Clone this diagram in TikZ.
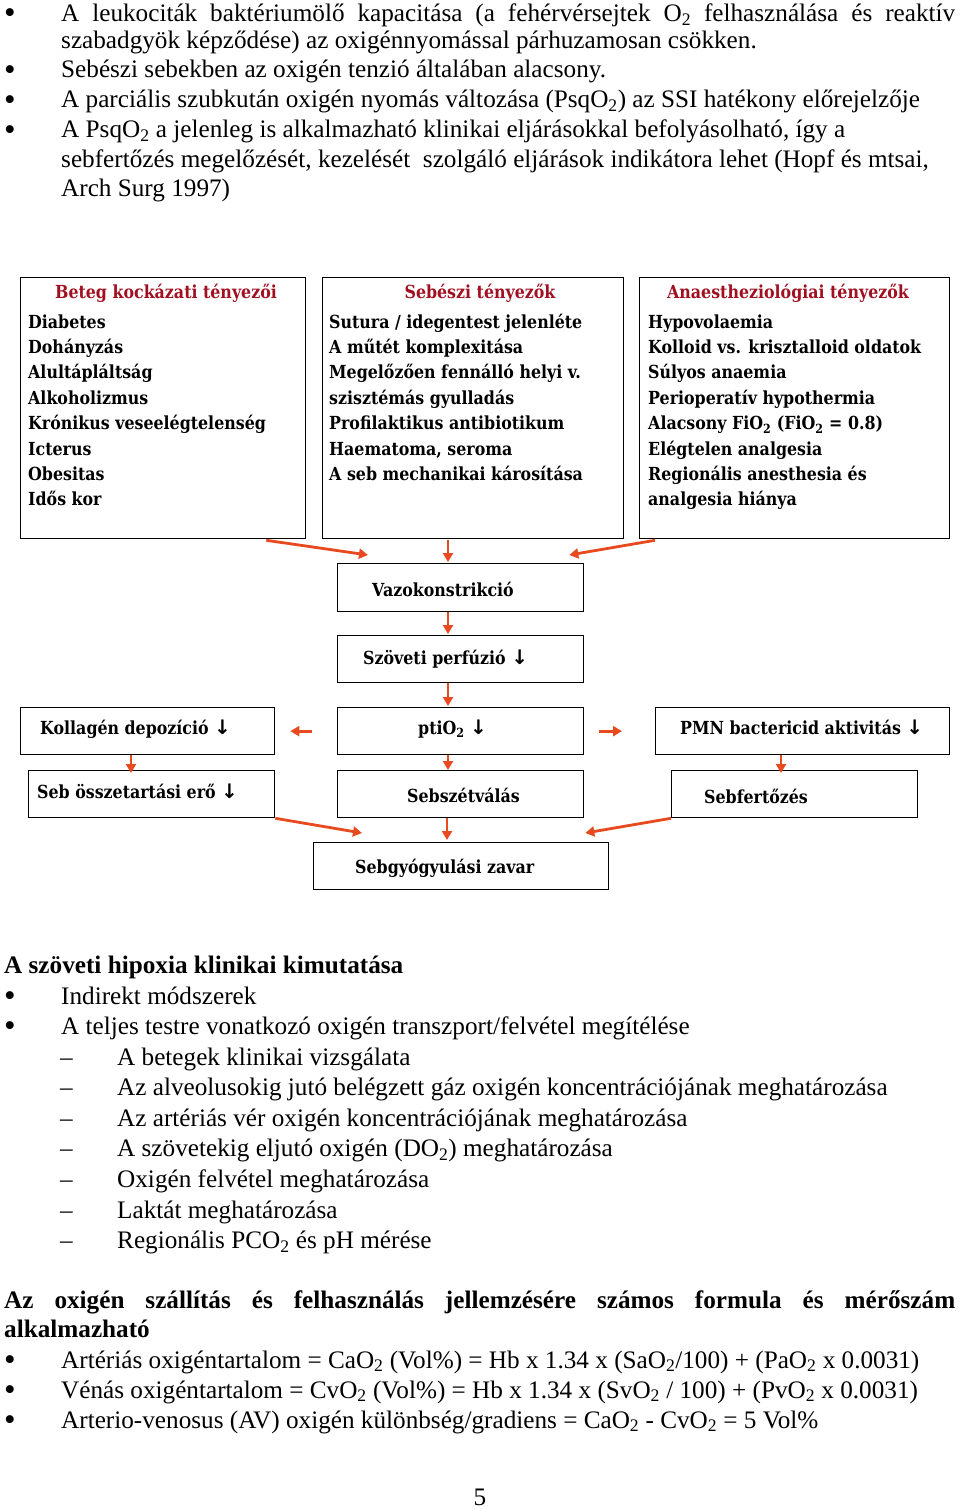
\documentclass[tikz,border=0pt]{standalone}
\usepackage{fontspec}
\setmainfont{Liberation Serif}
\newfontfamily\boxfont{DejaVu Serif}[FakeStretch=0.88]
\newfontfamily\arrowfont{DejaVu Sans}
\usetikzlibrary{arrows.meta,calc,positioning}
\definecolor{ArrowClr}{RGB}{232,74,32}
\definecolor{TitleClr}{RGB}{160,16,32}
\newcommand{\dnarrow}{{\arrowfont\fontsize{20}{20}\selectfont ↓}}
\newcommand{\bul}{\smash{\raisebox{-2pt}{\fontsize{33}{33}\selectfont •}}}

\tikzset{
  bodytxt/.style={font=\fontsize{25.2}{30}\selectfont,inner sep=0pt,anchor=base west},
  boxtxt/.style={font=\boxfont\bfseries\fontsize{18}{20}\selectfont,inner sep=0pt,anchor=base west},
  boxtitle/.style={boxtxt,anchor=base,text=TitleClr},
  flowbox/.style n args={2}{draw,line width=1.3pt,minimum width=#1,minimum height=#2,
    inner sep=0pt,anchor=north west},
  flowarrow/.style={draw=ArrowClr,line width=2.8pt,-{Triangle[length=9pt,width=10pt]}},
}

\begin{document}
\begin{tikzpicture}[x=1pt,y=-1pt]
\useasboundingbox (0,0) rectangle (960,1509);

% bevezeto pontok
\node[bodytxt] (b1) at (4,21.5) {\bul};
\node[bodytxt] (t1) at (61,21.5) {\makebox[894pt][s]{A leukociták baktériumölő kapacitása (a fehérvérsejtek O\textsubscript{2} felhasználása és reaktív}};
\node[bodytxt] (t2) at (61,48.5) {szabadgyök képződése) az oxigénnyomással párhuzamosan csökken.};
\node[bodytxt] (b3) at (4,78) {\bul};
\node[bodytxt] (t3) at (61,78) {Sebészi sebekben az oxigén tenzió általában alacsony.};
\node[bodytxt] (b4) at (4,108) {\bul};
\node[bodytxt] (t4) at (61,108) {A parciális szubkután oxigén nyomás változása (PsqO\textsubscript{2}) az SSI hatékony előrejelzője};
\node[bodytxt] (b5) at (4,138) {\bul};
\node[bodytxt] (t5) at (61,138) {A PsqO\textsubscript{2} a jelenleg is alkalmazható klinikai eljárásokkal befolyásolható, így a};
\node[bodytxt] (t6) at (61,167) {sebfertőzés megelőzését, kezelését~ szolgáló eljárások indikátora lehet (Hopf és mtsai,};
\node[bodytxt] (t7) at (61,196) {Arch Surg 1997)};

% kockazati tenyezok
\node[flowbox={285pt}{261pt}] (bet) at (20,277) {};
\node[flowbox={301pt}{261pt}] (seb) at (322,277) {};
\node[flowbox={310pt}{261pt}] (ana) at (639,277) {};
\node[boxtitle] (bettitle) at (166,298) {Beteg kockázati tényezői};
\node[boxtitle] (sebtitle) at (480,298) {Sebészi tényezők};
\node[boxtitle] (anatitle) at (788,298) {Anaestheziológiai tényezők};
\foreach \txt [count=\i] in {Diabetes,Dohányzás,Alultápláltság,Alkoholizmus,
  Krónikus veseelégtelenség,Icterus,Obesitas,Idős kor}
  \node[boxtxt] (bet\i) at (28,302.6+25.4*\i) {\txt};
\foreach \txt [count=\i] in {Sutura / idegentest jelenléte,A műtét komplexitása,
  Megelőzően fennálló helyi v.,szisztémás gyulladás,Profilaktikus antibiotikum,
  {Haematoma, seroma},A seb mechanikai károsítása}
  \node[boxtxt] (seb\i) at (329,302.6+25.4*\i) {\txt};
\foreach \txt [count=\i] in {Hypovolaemia,Kolloid vs. krisztalloid oldatok,Súlyos anaemia,
  Perioperatív hypothermia,Alacsony FiO\textsubscript{2} (FiO\textsubscript{2} = 0.8),
  Elégtelen analgesia,Regionális anesthesia és,analgesia hiánya}
  \node[boxtxt] (ana\i) at (648,302.6+25.4*\i) {\txt};

% folyamat
\node[flowbox={246pt}{48pt}] (vazo) at (337,563) {};
\node[flowbox={246pt}{47pt}] (szov) at (337,635) {};
\node[flowbox={254pt}{47pt}] (koll) at (20,707) {};
\node[flowbox={246pt}{47pt}] (pti) at (337,707) {};
\node[flowbox={294pt}{47pt}] (pmn) at (655,707) {};
\node[flowbox={246pt}{47pt}] (ossz) at (28,770) {};
\node[flowbox={246pt}{47pt}] (sebsz) at (337,770) {};
\node[flowbox={246pt}{47pt}] (sebf) at (671,770) {};
\node[flowbox={295pt}{47pt}] (gyogy) at (313,842) {};

\node[boxtxt] (vazotxt) at (372,596) {Vazokonstrikció};
\node[boxtxt] (szovtxt) at (363,664) {Szöveti perfúzió \dnarrow};
\node[boxtxt] (kolltxt) at (40,734) {Kollagén depozíció \dnarrow};
\node[boxtxt] (ptitxt) at (418,734) {ptiO\textsubscript{2} \dnarrow};
\node[boxtxt] (pmntxt) at (680,734) {PMN bactericid aktivitás \dnarrow};
\node[boxtxt] (ossztxt) at (37,798) {Seb összetartási erő \dnarrow};
\node[boxtxt] (sebsztxt) at (407,802) {Sebszétválás};
\node[boxtxt] (sebftxt) at (704,803) {Sebfertőzés};
\node[boxtxt] (gyogytxt) at (355,873) {Sebgyógyulási zavar};

\draw[flowarrow] ($(bet.south east)+(-40,1)$) -- ($(vazo.north west)+(31,-8)$);
\draw[flowarrow] ($(seb.south west)+(126,1)$) -- ($(vazo.north west)+(111,-1)$);
\draw[flowarrow] ($(ana.south west)+(16,1)$) -- ($(vazo.north east)+(-15,-8)$);
\draw[flowarrow] ($(vazo.south west)+(111,0)$) -- ($(szov.north west)+(111,-1)$);
\draw[flowarrow] ($(szov.south west)+(111,0)$) -- ($(pti.north west)+(111,-1)$);
\draw[flowarrow] ($(pti.west)+(-25,0)$) -- ($(koll.east)+(15,0)$);
\draw[flowarrow] ($(pti.east)+(15,0)$) -- ($(pmn.west)+(-33,0)$);
\draw[flowarrow] ($(koll.south west)+(111,0)$) -- ($(ossz.north west)+(103,3)$);
\draw[flowarrow] ($(pti.south west)+(111,0)$) -- ($(sebsz.north west)+(111,0)$);
\draw[flowarrow] ($(pmn.south west)+(126,0)$) -- ($(sebf.north west)+(110,3)$);
\draw[flowarrow] (ossz.south east) -- ($(gyogy.north west)+(49,-9)$);
\draw[flowarrow] ($(sebsz.south west)+(110,0)$) -- ($(gyogy.north west)+(134,-2)$);
\draw[flowarrow] (sebf.south west) -- ($(gyogy.north east)+(-24,-9)$);

% szoveti hipoxia
\node[bodytxt,font=\fontsize{25.2}{30}\selectfont\bfseries] (h1) at (4,973) {A szöveti hipoxia klinikai kimutatása};
\node[bodytxt] (hb1) at (4,1004) {\bul};
\node[bodytxt] (h2) at (61,1004) {Indirekt módszerek};
\node[bodytxt] (hb2) at (4,1034.5) {\bul};
\node[bodytxt] (h3) at (61,1034.5) {A teljes testre vonatkozó oxigén transzport/felvétel megítélése};
\foreach \txt [count=\i] in {A betegek klinikai vizsgálata,
  Az alveolusokig jutó belégzett gáz oxigén koncentrációjának meghatározása,
  Az artériás vér oxigén koncentrációjának meghatározása,
  A szövetekig eljutó oxigén (DO\textsubscript{2}) meghatározása,
  Oxigén felvétel meghatározása,Laktát meghatározása,
  Regionális PCO\textsubscript{2} és pH mérése}
  {
  \node[bodytxt] (hd\i) at (60,1034.4+30.6*\i) {–};
  \node[bodytxt] (hs\i) at (117,1034.4+30.6*\i) {\txt};
  }

% formulak
\node[bodytxt,font=\fontsize{25.2}{30}\selectfont\bfseries] (f1) at (4,1308) {\makebox[951pt][s]{Az oxigén szállítás és felhasználás jellemzésére számos formula és mérőszám}};
\node[bodytxt,font=\fontsize{25.2}{30}\selectfont\bfseries] (f2) at (4,1337) {alkalmazható};
\node[bodytxt] (fb1) at (4,1368) {\bul};
\node[bodytxt] (f3) at (61,1368) {Artériás oxigéntartalom = CaO\textsubscript{2} (Vol\%) = Hb x 1.34 x (SaO\textsubscript{2}/100) + (PaO\textsubscript{2} x 0.0031)};
\node[bodytxt] (fb2) at (4,1398) {\bul};
\node[bodytxt] (f4) at (61,1398) {Vénás oxigéntartalom = CvO\textsubscript{2} (Vol\%) = Hb x 1.34 x (SvO\textsubscript{2} / 100) + (PvO\textsubscript{2} x 0.0031)};
\node[bodytxt] (fb3) at (4,1428) {\bul};
\node[bodytxt] (f5) at (61,1428) {Arterio-venosus (AV) oxigén különbség/gradiens = CaO\textsubscript{2} - CvO\textsubscript{2} = 5 Vol\%};
\node[bodytxt,anchor=base] (page) at (480,1505) {5};
\end{tikzpicture}
\end{document}
